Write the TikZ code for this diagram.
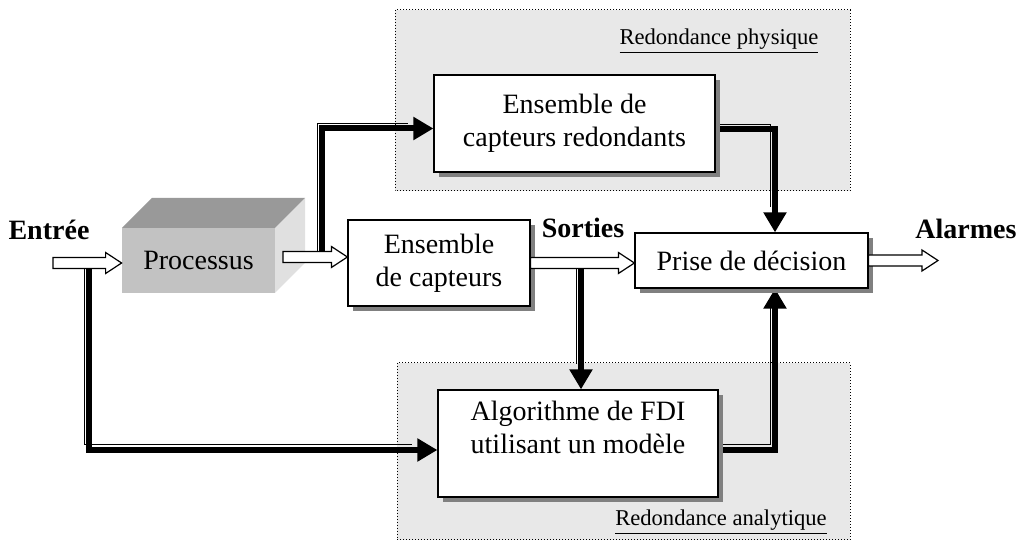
\documentclass[tikz,border=0pt]{standalone}
\usepackage{fontspec}
\setmainfont{Liberation Serif}
\usetikzlibrary{arrows.meta,shadows,calc}
\pgfdeclarelayer{back}
\pgfdeclarelayer{mid}
\pgfsetlayers{back,mid,main}

% white block arrow, horizontal, from #1 to #2
\newcommand{\hollowarrow}[2]{%
  \draw[line width=0.6pt, fill=white] ($(#1)+(0,-5.5)$) -- ($(#2)+(-16,-5.5)$)
    -- ($(#2)+(-16,-10.5)$) -- (#2) -- ($(#2)+(-16,10.5)$)
    -- ($(#2)+(-16,5.5)$) -- ($(#1)+(0,5.5)$) -- cycle;}
% thick arrow with its thin companion line
\newcommand{\feedline}[1]{%
  \draw[thinline] #1;
  \draw[thickline] #1;}

\begin{document}
\begin{tikzpicture}[x=0.5pt, y=-0.5pt,
    every node/.style={font=\fontsize{14}{16.5}\selectfont},
    box/.style={draw, fill=white, line width=0.6pt, align=center,
      drop shadow={shadow xshift=2.5pt, shadow yshift=-2.5pt, fill=black!50, opacity=1}},
    zone/.style={fill=black!9, draw, densely dotted, line width=0.5pt},
    zonetitle/.style={font=\fontsize{11.3}{13}\selectfont},
    bigtitle/.style={font=\fontsize{14}{16.5}\selectfont\bfseries},
    thickline/.style={line width=3pt, -{Triangle[length=10pt, width=11pt]}},
    thinline/.style={line width=0.5pt, shorten >=10pt,
      transform canvas={xshift=-2.5pt, yshift=2.5pt}}]
    \useasboundingbox (0,0) rectangle (1017,544);

    \begin{pgfonlayer}{back}
        \draw[zone] (395,10) rectangle (850,191);
        \draw[zone] (397,363) rectangle (850,540);
    \end{pgfonlayer}

    % processus block
    \fill[black!12] (275,228) -- (305,198) -- (305,263) -- (275,293) -- cycle;
    \fill[black!40] (122,228) -- (152,198) -- (305,198) -- (275,228) -- cycle;
    \fill[black!24] (122,228) rectangle (275,293);
    \node (proc) at (198.5,260.5) [minimum width=76.5pt, minimum height=32.5pt] {Processus};

    \node[box, minimum width=91pt, minimum height=43pt] (capt) at (439,263) {Ensemble\\de capteurs};
    \node[box, minimum width=140.5pt, minimum height=48.5pt] (redond) at (574.5,123.5) {Ensemble de\\capteurs redondants};
    \node[box, minimum width=116.5pt, minimum height=27.5pt] (decis) at (751.5,260.5) {Prise de d\'ecision};
    \node[box, minimum width=140pt, minimum height=53.5pt] (fdi) at (578,443.5) {};
    \node[align=center] (fditxt) at (578,427) {Algorithme de FDI\\utilisant un mod\`ele};

    \node[bigtitle] (entree) at (49,230) {Entr\'ee};
    \node[bigtitle] (sorties) at (583,228) {Sorties};
    \node[bigtitle] (alarmes) at (966,229) {Alarmes};

    \node[zonetitle] (phys) at (719,41) {\underline{Redondance physique}};
    \node[zonetitle] (anal) at (721,522) {\underline{Redondance analytique}};

    \coordinate (in) at (53,263);
    \coordinate (pout) at (283,257);
    \coordinate (alarm) at (938,263);
    \coordinate (pbr) at (322,257);
    \coordinate (inb) at (89,263);
    \coordinate (sb) at (581,263);

    \begin{pgfonlayer}{mid}
        \feedline{(pbr) |- ([yshift=-2.5pt]redond.west)}
        \feedline{([yshift=-3pt]redond.east) -| ([xshift=11.75pt]decis.north)}
        \feedline{(inb) |- ([yshift=-3.25pt]fdi.west)}
        \feedline{(sb) -- (sb |- fdi.north)}
        \feedline{([yshift=-3.25pt]fdi.east) -| ([xshift=11.75pt]decis.south)}
    \end{pgfonlayer}

    \hollowarrow{in}{in -| proc.west}
    \hollowarrow{pout}{pout -| capt.west}
    \hollowarrow{capt.east}{capt.east -| decis.west}
    \hollowarrow{decis.east}{decis.east -| alarm}
\end{tikzpicture}
\end{document}
